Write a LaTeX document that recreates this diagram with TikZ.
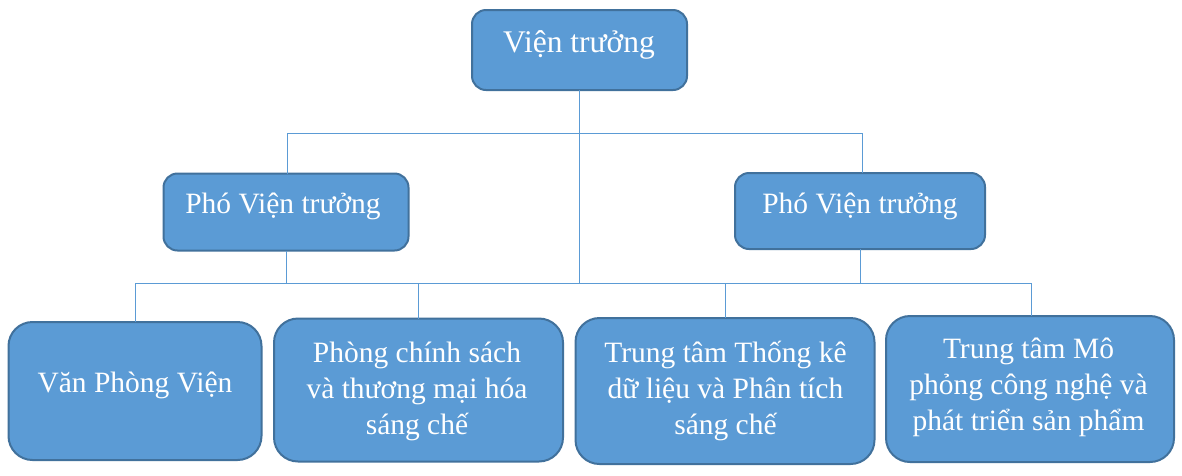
\documentclass[tikz,border=0pt]{standalone}
\usepackage{fontspec}
\setmainfont{Liberation Serif}
\newcommand\mylines[1]{\parbox[t]{330pt}{\centering\lineskiplimit=-\maxdimen #1}}
\definecolor{boxfill}{HTML}{5B9BD5}
\definecolor{boxline}{HTML}{41719C}
\definecolor{connline}{HTML}{5B9BD5}
\tikzset{
  box/.style={rectangle, rounded corners=#1, fill=boxfill, draw=boxline, line width=2pt, outer sep=0pt, inner sep=0pt},
  box/.default=14pt,
  lbl/.style={text=white, font=\fontsize{29.5pt}{36pt}\selectfont, inner sep=0pt, anchor=base},
  conn/.style={draw=connline, line width=1pt}
}
\begin{document}
\begin{tikzpicture}[x=1pt,y=-1pt]
\fill[white] (0,0) rectangle (1182,475);
\useasboundingbox (0,0) rectangle (1182,475);
% boxes
\node[box, minimum width=215pt, minimum height=80pt] (vt) at (579.5,50) {};
\node[box, minimum width=245pt, minimum height=77pt] (pl) at (286,212) {};
\node[box, minimum width=250pt, minimum height=76pt] (pr) at (860,211) {};
\node[box=24pt, minimum width=253pt, minimum height=138pt] (b1) at (135,391) {};
\node[box=24pt, minimum width=289pt, minimum height=143pt] (b2) at (418.5,390) {};
\node[box=24pt, minimum width=299pt, minimum height=146pt] (b3) at (725,391) {};
\node[box=24pt, minimum width=288pt, minimum height=146pt] (b4) at (1030,389) {};
% labels
\node[lbl, font=\fontsize{31.5pt}{38pt}\selectfont] (tvt) at (579,52) {Viện trưởng};
\node[lbl] (tpl) at (283,213) {Phó Viện trưởng};
\node[lbl] (tpr) at (860,213) {Phó Viện trưởng};
\node[lbl] (tb1) at (135,392) {Văn Phòng Viện};
\node[lbl] (tb2) at (417,362) {\mylines{Phòng chính sách\\và thương mại hóa\\sáng chế}};
\node[lbl] (tb3) at (725.5,362) {\mylines{Trung tâm Thống kê\\dữ liệu và Phân tích\\sáng chế}};
\node[lbl] (tb4) at (1028.5,358) {\mylines{Trung tâm Mô\\phỏng công nghệ và\\phát triển sản phẩm}};
% junction coordinates
\coordinate (h1L) at (287,133);
\coordinate (h1R) at (862,133);
\coordinate (h2L) at (135,283);
\coordinate (h2R) at (1031,283);
% connectors
\draw[conn] (vt.south) -- (vt.south |- h2L);
\draw[conn] (h1L) -- (h1R);
\draw[conn] (h1L) -- (h1L |- pl.north);
\draw[conn] (h1R) -- (h1R |- pr.north);
\draw[conn] (pl.south) -- (pl.south |- h2L);
\draw[conn] (pr.south) -- (pr.south |- h2L);
\draw[conn] (h2L) -- (h2R);
\draw[conn] (h2L) -- (b1.north);
\draw[conn] (b2.north |- h2L) -- (b2.north);
\draw[conn] (b3.north |- h2L) -- (b3.north);
\draw[conn] (h2R) -- (h2R |- b4.north);
\end{tikzpicture}
\end{document}
